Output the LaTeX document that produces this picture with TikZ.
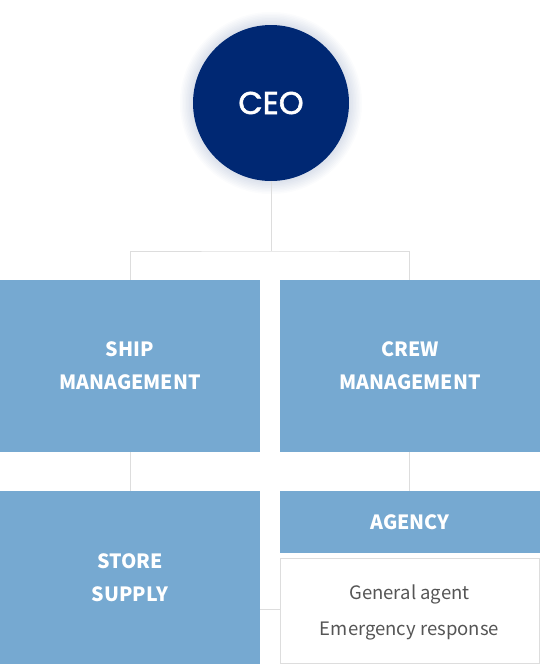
\documentclass[tikz,border=0pt]{standalone}
\usepackage{fontspec}
\setmainfont{Noto Sans CJK KR}
\newfontfamily\ceofont{Poppins}[FakeBold=1.8]
\definecolor{ceoblue}{HTML}{002873}
\definecolor{boxblue}{HTML}{76A9D1}
\definecolor{linegray}{HTML}{DDDDDD}
\definecolor{txtgray}{HTML}{555555}
\tikzset{
  unitbox/.style={fill=boxblue, draw=none, inner sep=0pt, text=white, align=center,
    font=\fontsize{19.6}{33}\selectfont\bfseries},
  conn/.style={draw=linegray, line width=1pt},
}
\begin{document}
\begin{tikzpicture}[x=1pt,y=-1pt]
\useasboundingbox (0,0) rectangle (540,664);
\foreach \r in {79,80.5,...,91}
  \fill[ceoblue, opacity=0.016] (271,103) circle[radius=\r pt];
\node[circle, fill=ceoblue, minimum size=156pt, inner sep=0pt, text=white,
  font=\ceofont\fontsize{31.5}{32}\selectfont] (ceo) at (271,103) {CEO};
\node[unitbox, minimum width=260pt, minimum height=172pt] (ship) at (130,366) {SHIP\\MANAGEMENT};
\node[unitbox, minimum width=260pt, minimum height=172pt] (crew) at (410,366) {CREW\\MANAGEMENT};
\node[unitbox, minimum width=260pt, minimum height=173pt] (store) at (130,577.5) {STORE\\SUPPLY};
\node[unitbox, minimum width=260pt, minimum height=62pt] (agency) at (410,522) {AGENCY};
\node[draw=linegray, line width=1pt, fill=white, minimum width=259pt, minimum height=105pt, inner sep=0pt] (duty) at (409.5,610.5) {};
\node[text=txtgray, align=center, font=\fontsize{18.5}{36}\selectfont, inner sep=0pt] (dutytext) at ([yshift=-2pt]duty.center) {General agent\\Emergency response};
\coordinate (split) at (271,251);
\draw[conn] (ceo.south) -- (split);
\draw[conn] (ship.north -| 130,0) |- (split) -| (crew.north -| 409,0);
\draw[conn] (ship.south -| 130,0) -- (store.north -| 130,0);
\draw[conn] (crew.south -| 409,0) -- (agency.north -| 409,0);
\draw[conn] (store.east |- 0,609) -- (duty.west |- 0,609);
\end{tikzpicture}
\end{document}
